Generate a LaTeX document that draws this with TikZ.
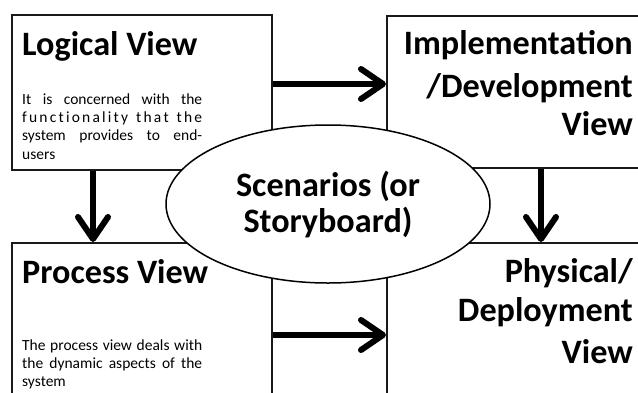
\documentclass[tikz,border=0pt]{standalone}
\usepackage{fontspec}
\setmainfont{Carlito}
\usetikzlibrary{shapes.geometric,arrows.meta}
\tikzset{
  viewbox/.style={draw=black!90, line width=1.8pt, fill=white, rectangle, inner sep=0pt, anchor=north west},
  bigarrow/.style={line width=6pt, -{Straight Barb[length=22pt,width=30pt,round]}},
  titletext/.style={inner sep=0pt, font=\fontsize{34.2}{40}\selectfont\bfseries},
  bodytext/.style={inner sep=0pt, anchor=base west, font=\fontsize{15.5}{18.4}\selectfont},
  scen/.style={ellipse, draw=black, line width=1.5pt, fill=white, minimum width=324pt, minimum height=158pt, inner sep=0pt, align=center, font=\fontsize{34.2}{36}\selectfont\bfseries}
}
\begin{document}
\begin{tikzpicture}[x=1pt,y=1pt]
\useasboundingbox (0,0) rectangle (638,-392);
\clip (0,0) rectangle (638,-392);
% boxes
\node[viewbox, minimum width=260pt, minimum height=155pt] (logical) at (11,-14) {};
\node[viewbox, minimum width=260pt, minimum height=170pt] (process) at (11,-242) {};
\node[viewbox, minimum width=270pt, minimum height=152pt] (impl) at (386,-15) {};
\node[viewbox, minimum width=270pt, minimum height=170pt] (phys) at (386,-242) {};
% arrow levels
\coordinate (a1) at (0,-84);
\coordinate (a2) at (0,-335);
\coordinate (v1) at (93,0);
\coordinate (v2) at (541,0);
\draw[bigarrow] (logical.east |- a1) -- (impl.west |- a1);
\draw[bigarrow] (process.east |- a2) -- (phys.west |- a2);
\draw[bigarrow] (logical.south -| v1) -- (process.north -| v1);
\draw[bigarrow] (impl.south -| v2) -- (phys.north -| v2);
% titles
\node[titletext, anchor=base west] (ltitle) at (22,-55) {Logical View};
\node[titletext, anchor=base west] (ptitle) at (22,-283) {Process View};
\node[titletext, anchor=base east] (it1) at (633,-54) {Implementation};
\node[titletext, anchor=base east] (it2) at (633,-97) {/Development};
\node[titletext, anchor=base east] (it3) at (633,-135) {View};
\node[titletext, anchor=base east] (ph1) at (633,-282) {Physical/};
\node[titletext, anchor=base east] (ph2) at (633,-321) {Deployment};
\node[titletext, anchor=base east] (ph3) at (633,-363) {View};
% body texts
\node[bodytext] (lbody) at (22,-104) {\parbox[t]{180pt}{%
\makebox[180pt][s]{It is concerned with the}\par
\makebox[180pt][s]{f\hfil u\hfil n\hfil c\hfil t\hfil i\hfil o\hfil n\hfil a\hfil l\hfil i\hfil t\hfil y\hfil\ \hfil t\hfil h\hfil a\hfil t\hfil\ \hfil t\hfil h\hfil e}\par
\makebox[180pt][s]{system provides to end-}\par
users}};
\node[bodytext] (pbody) at (22,-350) {\parbox[t]{180pt}{%
\makebox[180pt][s]{The process view deals with}\par
\makebox[180pt][s]{the dynamic aspects of the}\par
system}};
% scenarios
\node[scen] (scenarios) at (328,-204) {Scenarios (or\\Storyboard)};
\end{tikzpicture}
\end{document}
